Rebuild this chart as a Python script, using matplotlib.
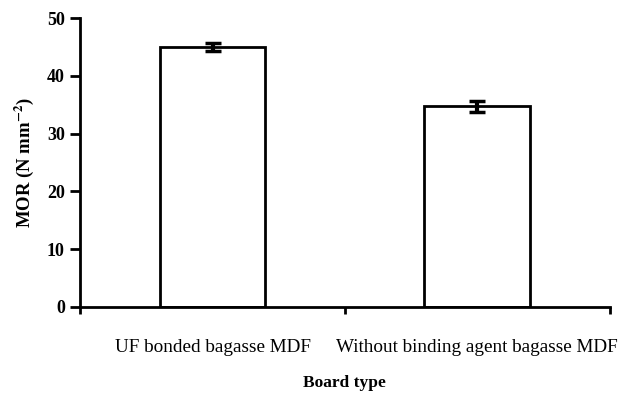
import matplotlib
matplotlib.use("Agg")
import matplotlib.pyplot as plt

categories = ["UF bonded bagasse MDF", "Without binding agent bagasse MDF"]
mor_values = [45.0, 34.7]
mor_errors = [0.7, 1.0]
y_ticks = [0, 10, 20, 30, 40, 50]

plt.rcParams['font.family'] = ['Liberation Serif', 'DejaVu Serif']
plt.rcParams['mathtext.fontset'] = 'stix'

fig = plt.figure(figsize=(6.26, 3.94), dpi=100)
ax = fig.add_axes([0.128, 0.221, 0.846, 0.733])

pos = [i + 0.5 for i in range(len(categories))]
ax.bar(pos, mor_values, width=0.4, color='white', edgecolor='black', linewidth=2,
       yerr=mor_errors, capsize=6, error_kw=dict(elinewidth=3, capthick=2.5, ecolor='black'))

ax.set_xlim(0, len(categories))
ax.set_ylim(0, 50)
ax.set_yticks(y_ticks)
ax.set_yticklabels([str(v) for v in y_ticks], fontweight='bold', fontsize=13)
ax.set_xticks(range(len(categories) + 1))
ax.set_xticklabels([])
ax.set_xticks(pos, minor=True)
ax.set_xticklabels(categories, minor=True, fontsize=13.8)
ax.tick_params(axis='x', which='minor', length=0, pad=23)
ax.tick_params(axis='x', which='major', length=5, width=2, direction='out')
ax.tick_params(axis='y', length=7, width=2, direction='out', pad=4)

for s in ['top', 'right']:
    ax.spines[s].set_visible(False)
for s in ['left', 'bottom']:
    ax.spines[s].set_linewidth(2)

ax.set_ylabel('MOR (N mm$^{\\mathbf{-2}}$)', fontweight='bold', fontsize=13.5, labelpad=8)
ax.set_xlabel('Board type', fontweight='bold', fontsize=12.5, labelpad=14)

fig.savefig('out.png', dpi=100)
